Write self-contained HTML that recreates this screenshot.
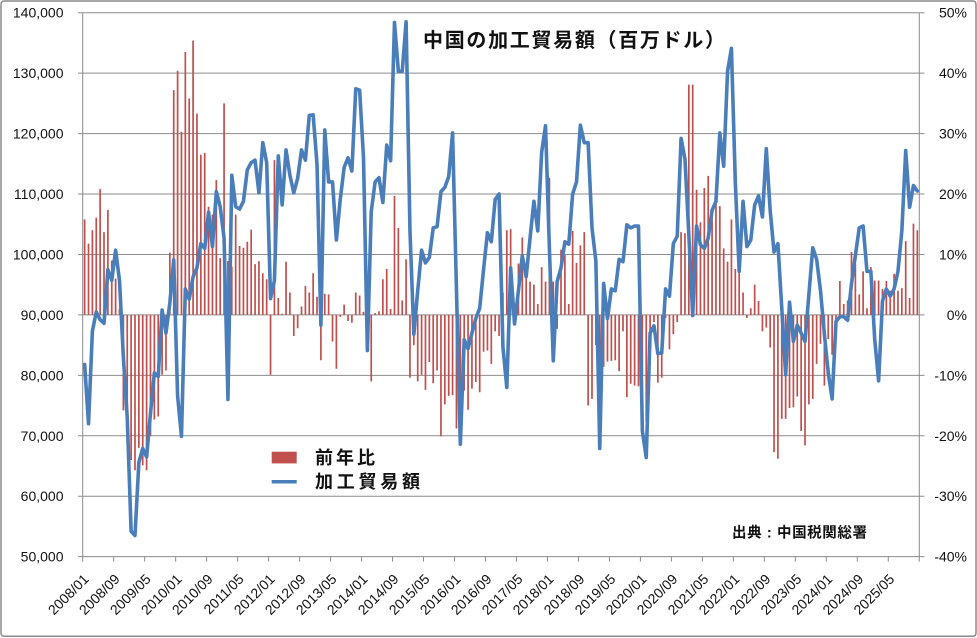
<!DOCTYPE html>
<html>
<head>
<meta charset="utf-8">
<style>
html,body{margin:0;padding:0;background:#fff;}
svg{display:block;}
.ax{font-family:"Liberation Sans","Noto Sans CJK JP",sans-serif;font-size:14px;fill:#111;}
.jp{font-family:"Liberation Sans","Noto Sans CJK JP",sans-serif;font-weight:bold;fill:#111;}
</style>
</head>
<body>
<svg width="977" height="638" viewBox="0 0 977 638" xmlns="http://www.w3.org/2000/svg">
<rect x="0" y="0" width="977" height="638" fill="#fff"/>
<rect x="1" y="1" width="975" height="635.3" rx="3" fill="none" stroke="#8a8a8a" stroke-width="1.5"/>

<!-- gridlines -->
<g stroke="#8c8c8c" stroke-width="1" fill="none">
<path d="M82.7 12.7H919.3M82.7 73.14H919.3M82.7 133.58H919.3M82.7 194.02H919.3M82.7 254.46H919.3M82.7 314.9H919.3M82.7 375.34H919.3M82.7 435.78H919.3M82.7 496.22H919.3M82.7 556.66H919.3"/>
<path d="M82.7 12.7V556.66M919.3 12.7V556.66"/>
<path d="M78 12.7H82.7M78 73.14H82.7M78 133.58H82.7M78 194.02H82.7M78 254.46H82.7M78 314.9H82.7M78 375.34H82.7M78 435.78H82.7M78 496.22H82.7M78 556.66H82.7"/>
<path d="M919.3 12.7H924.5M919.3 73.14H924.5M919.3 133.58H924.5M919.3 194.02H924.5M919.3 254.46H924.5M919.3 314.9H924.5M919.3 375.34H924.5M919.3 435.78H924.5M919.3 496.22H924.5M919.3 556.66H924.5"/>
<path d="M82.7 556.66v5M113.68 556.66v5M144.67 556.66v5M175.65 556.66v5M206.64 556.66v5M237.62 556.66v5M268.6 556.66v5M299.59 556.66v5M330.57 556.66v5M361.56 556.66v5M392.54 556.66v5M423.52 556.66v5M454.51 556.66v5M485.49 556.66v5M516.48 556.66v5M547.46 556.66v5M578.44 556.66v5M609.43 556.66v5M640.41 556.66v5M671.4 556.66v5M702.38 556.66v5M733.36 556.66v5M764.35 556.66v5M795.33 556.66v5M826.32 556.66v5M857.3 556.66v5M888.28 556.66v5M919.27 556.66v5"/>
</g>

<!-- bars (percent) -->
<path transform="matrix(3.873 0 0 -6.044 84.64 314.9)" vector-effect="non-scaling-stroke" stroke="#c0504d" stroke-width="1.7" fill="none"
d="M0 0V15.8M1 0V11.8M2 0V14M3 0V16.1M4 0V20.8M5 0V13.7M6 0V17.4M7 0V9M8 0V6M9 0V1M10 0V-15.8M11 0V-21M12 0V-24M13 0V-25.7M14 0V-22M15 0V-24.9M16 0V-25.7M17 0V-20M18 0V-17.3M19 0V-16.8M20 0V-9.9M21 0V-9.2M22 0V10.3M23 0V37.2M24 0V40.4M25 0V30.3M26 0V43.5M27 0V35.8M28 0V45.4M29 0V33.3M30 0V26.5M31 0V26.8M32 0V17.9M33 0V16.6M34 0V22.3M35 0V9.4M36 0V35M37 0V8.9M38 0V8M39 0V16.6M40 0V11.4M41 0V11.1M42 0V12.1M43 0V14.1M44 0V8.4M45 0V8.9M46 0V6.9M47 0V5.9M48 0V-9.9M49 0V25.6M50 0V2.8M51 0V0.2M52 0V8.8M53 0V3.7M54 0V-3.5M55 0V-2.2M56 0V1.4M57 0V4.8M58 0V3.7M59 0V6.9M60 0V3M61 0V-7.5M62 0V3.5M63 0V3.4M64 0V-4.4M65 0V-8.9M66 0V-0.3M67 0V1.7M68 0V-1M69 0V-1.3M70 0V3.7M71 0V3.2M72 0V0.5M73 0V-3M74 0V-11M75 0V0.3M76 0V0.6M77 0V5.9M78 0V7.6M79 0V1M80 0V19.7M81 0V14.4M82 0V2.4M83 0V9.2M84 0V-10.4M85 0V-5M86 0V-11M87 0V-9.9M88 0V-12.4M89 0V-7.8M90 0V-11.3M91 0V-9.2M92 0V-20.1M93 0V-14.8M94 0V-13.4M95 0V-13.3M96 0V-18.8M97 0V-16M98 0V-12.5M99 0V-15.7M100 0V-12.2M101 0V-11.1M102 0V-12.8M103 0V-6.1M104 0V-5.9M105 0V-8.1M106 0V-2.7M107 0V-3.5M108 0V3.7M109 0V14M110 0V14.2M111 0V1M112 0V8.5M113 0V12.8M114 0V7.2M115 0V5.5M116 0V5M117 0V1.8M118 0V7.9M119 0V5.5M120 0V22.7M121 0V5.5M122 0V-2.3M123 0V10.8M124 0V9.9M125 0V1.8M126 0V13.9M127 0V8.6M128 0V11.5M129 0V13.7M130 0V-15M131 0V-13.9M132 0V-5M133 0V-10M134 0V-8.6M135 0V-7.7M136 0V-7.6M137 0V-7.5M138 0V-9.3M139 0V-2.7M140 0V-13.6M141 0V-11.4M142 0V-11.7M143 0V-11.8M144 0V-10M145 0V-17.7M146 0V-8.3M147 0V-1.2M148 0V-11.2M149 0V-10.4M150 0V-0.5M151 0V-5.7M152 0V-3.2M153 0V-1.2M154 0V13.7M155 0V13.5M156 0V38.1M157 0V38.1M158 0V20.7M159 0V15.3M160 0V21M161 0V23M162 0V17.1M163 0V18.8M164 0V18M165 0V11M166 0V8.8M167 0V15.8M168 0V7.6M169 0V7.7M170 0V3.7M171 0V-0.5M172 0V1.1M173 0V5M174 0V2.3M175 0V-2.7M176 0V-2.1M177 0V-5.4M178 0V-22.7M179 0V-23.8M180 0V-17.2M181 0V-17.2M182 0V-15.4M183 0V-15.3M184 0V-13.5M185 0V-19.2M186 0V-21.6M187 0V-14.8M188 0V-13.9M189 0V-8.1M190 0V-4.8M191 0V-11.7M192 0V-4M193 0V-6.6M194 0V-1.1M195 0V5.6M196 0V1.8M197 0V2.4M198 0V10.4M199 0V8.4M200 0V3.4M201 0V7.2M202 0V1.1M203 0V7.9M204 0V5.7M205 0V5.7M206 0V4.3M207 0V5.6M208 0V4M209 0V6.8M210 0V4M211 0V4.4M212 0V12.2M213 0V2.8M214 0V15.1M215 0V14"/>

<!-- line (thousands USD mn) -->
<polyline transform="matrix(3.873 0 0 -6.044 84.64 858.86)" vector-effect="non-scaling-stroke" fill="none" stroke="#4a7ebb" stroke-width="3.6" stroke-linejoin="round" stroke-linecap="round"
points="0,81.8 1,72 2,87.3 3,90.5 4,89.2 5,88.6 6,97.5 7,95.7 8,100.7 9,95.7 10,83 11,73 12,54.2 13,53.5 14,65.6 15,67.9 16,66.5 17,73.7 18,80.4 19,79.8 20,90.8 21,87 22,92 23,99.1 24,76.6 25,69.9 26,94.3 27,92.6 28,96.3 29,97.8 30,101.8 31,101 32,107 33,101.3 34,110.4 35,107.9 36,102.7 37,76 38,113.1 39,107.9 40,107.5 41,108.8 42,114 43,115.2 44,115.6 45,110.2 46,118.5 47,115.2 48,92.7 49,95.7 50,116.3 51,108.2 52,117.3 53,113.1 54,110.2 55,112.6 56,117.3 57,115.6 58,123 59,123.1 60,114.9 61,88.3 62,120.6 63,112 64,112 65,102.4 66,109.1 67,114.4 68,116 69,113.8 70,127.4 71,127.2 72,116 73,84.1 74,107.1 75,112 76,112.7 77,108.6 78,118.1 79,115.5 80,138.4 81,130.3 82,130.3 83,138.5 84,103.9 85,86.8 86,94 87,100.7 88,98.6 89,99.5 90,104.4 91,104.6 92,110.4 93,111.1 94,112.9 95,120.1 96,94.3 97,68.6 98,85.9 99,84.4 100,87 101,89.4 102,91.1 103,97.5 104,103.6 105,102.1 106,109.1 107,110 108,84.7 109,78 110,97.8 111,88.5 112,94 113,99.8 114,96.3 115,102.7 116,108.8 117,103.9 118,116.9 119,121.3 120,101 121,82.4 122,95.5 123,97.8 124,102.1 125,101.7 126,110 127,112 128,121.4 129,118.5 130,118.5 131,104.4 132,98.9 133,67.9 134,95.2 135,89.4 136,94.3 137,94 138,99.2 139,98.8 140,104.9 141,104.4 142,104.7 143,104.7 144,70.8 145,66.4 146,87 147,88.2 148,83.6 149,83.7 150,94.3 151,93.1 152,101.8 153,103 154,119.2 155,115.8 156,103.3 157,89.9 158,104.7 159,101.6 160,101 161,102.7 162,107.3 163,108.8 164,120.1 165,114.6 166,130.3 167,134.1 168,112 169,97.2 170,108.8 171,101.3 172,102.4 173,108.2 174,109.7 175,106.2 176,117.5 177,107.3 178,100.4 179,101.8 180,91.1 181,80.1 182,92.1 183,85.6 184,88.3 185,87 186,85.6 187,93.4 188,101.1 189,99.2 190,94 191,86.8 192,80.4 193,76.1 194,88.9 195,89.7 196,89.7 197,89.1 198,95.2 199,99.8 200,104.4 201,104.7 202,97.2 203,97.2 204,85.9 205,79.1 206,92.3 207,94.3 208,93.1 209,94.3 210,97.2 211,103.9 212,117.2 213,107.8 214,111.4 215,110.5"/>

<!-- left axis labels -->
<g class="ax" text-anchor="end">
<text x="63.5" y="17.7">140,000</text>
<text x="63.5" y="78.1">130,000</text>
<text x="63.5" y="138.6">120,000</text>
<text x="63.5" y="199">110,000</text>
<text x="63.5" y="259.5">100,000</text>
<text x="63.5" y="319.9">90,000</text>
<text x="63.5" y="380.3">80,000</text>
<text x="63.5" y="440.8">70,000</text>
<text x="63.5" y="501.2">60,000</text>
<text x="63.5" y="561.7">50,000</text>
</g>

<!-- right axis labels -->
<g class="ax" text-anchor="end">
<text x="967" y="17.7">50%</text>
<text x="967" y="78.1">40%</text>
<text x="967" y="138.6">30%</text>
<text x="967" y="199">20%</text>
<text x="967" y="259.5">10%</text>
<text x="967" y="319.9">0%</text>
<text x="967" y="380.3">-10%</text>
<text x="967" y="440.8">-20%</text>
<text x="967" y="501.2">-30%</text>
<text x="967" y="561.7">-40%</text>
</g>

<!-- x axis labels -->
<g class="ax" text-anchor="end">
<text x="89.7" y="580" transform="rotate(-45 89.7 580)">2008/01</text>
<text x="120.68" y="580" transform="rotate(-45 120.68 580)">2008/09</text>
<text x="151.67" y="580" transform="rotate(-45 151.67 580)">2009/05</text>
<text x="182.65" y="580" transform="rotate(-45 182.65 580)">2010/01</text>
<text x="213.64" y="580" transform="rotate(-45 213.64 580)">2010/09</text>
<text x="244.62" y="580" transform="rotate(-45 244.62 580)">2011/05</text>
<text x="275.6" y="580" transform="rotate(-45 275.6 580)">2012/01</text>
<text x="306.59" y="580" transform="rotate(-45 306.59 580)">2012/09</text>
<text x="337.57" y="580" transform="rotate(-45 337.57 580)">2013/05</text>
<text x="368.56" y="580" transform="rotate(-45 368.56 580)">2014/01</text>
<text x="399.54" y="580" transform="rotate(-45 399.54 580)">2014/09</text>
<text x="430.52" y="580" transform="rotate(-45 430.52 580)">2015/05</text>
<text x="461.51" y="580" transform="rotate(-45 461.51 580)">2016/01</text>
<text x="492.49" y="580" transform="rotate(-45 492.49 580)">2016/09</text>
<text x="523.48" y="580" transform="rotate(-45 523.48 580)">2017/05</text>
<text x="554.46" y="580" transform="rotate(-45 554.46 580)">2018/01</text>
<text x="585.44" y="580" transform="rotate(-45 585.44 580)">2018/09</text>
<text x="616.43" y="580" transform="rotate(-45 616.43 580)">2019/05</text>
<text x="647.41" y="580" transform="rotate(-45 647.41 580)">2020/01</text>
<text x="678.4" y="580" transform="rotate(-45 678.4 580)">2020/09</text>
<text x="709.38" y="580" transform="rotate(-45 709.38 580)">2021/05</text>
<text x="740.36" y="580" transform="rotate(-45 740.36 580)">2022/01</text>
<text x="771.35" y="580" transform="rotate(-45 771.35 580)">2022/09</text>
<text x="802.33" y="580" transform="rotate(-45 802.33 580)">2023/05</text>
<text x="833.32" y="580" transform="rotate(-45 833.32 580)">2024/01</text>
<text x="864.3" y="580" transform="rotate(-45 864.3 580)">2024/09</text>
<text x="895.28" y="580" transform="rotate(-45 895.28 580)">2025/05</text>
</g>

<!-- title -->
<text class="jp" x="423" y="47" font-size="20" textLength="302" lengthAdjust="spacing">中国の加工貿易額（百万ドル）</text>

<!-- legend -->
<rect x="271.7" y="451.7" width="25" height="11.7" fill="#c0504d"/>
<line x1="271.7" y1="481.7" x2="296.7" y2="481.7" stroke="#4a7ebb" stroke-width="3.5"/>
<text class="jp" x="315" y="464" font-size="18" textLength="60" lengthAdjust="spacing">前年比</text>
<text class="jp" x="315" y="488" font-size="18" textLength="105" lengthAdjust="spacing">加工貿易額</text>

<!-- source -->
<text class="jp" x="732" y="537.5" font-size="14.5" textLength="135" lengthAdjust="spacing">出典 : 中国税関総署</text>
</svg>
</body>
</html>
